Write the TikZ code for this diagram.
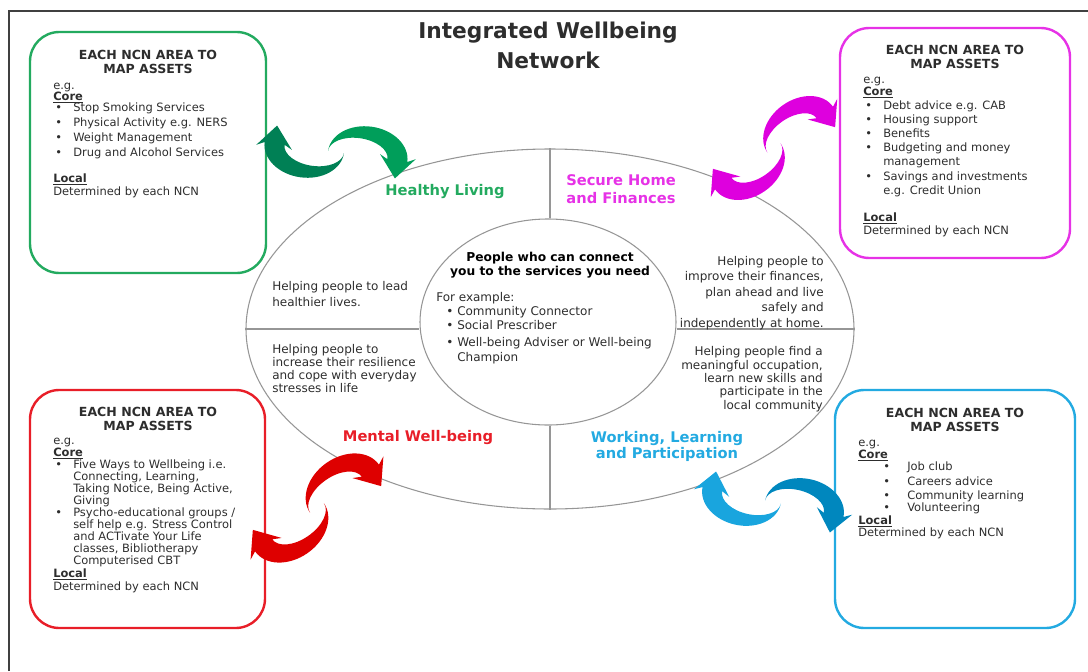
\documentclass[tikz,border=0pt]{standalone}
\usepackage{fontspec}
\setmainfont{DejaVu Sans}
\usetikzlibrary{shapes.geometric}

\definecolor{hlgreen}{RGB}{35,170,95}
\definecolor{hlgreenA}{RGB}{0,158,90}
\definecolor{hlgreenB}{RGB}{0,128,85}
\definecolor{shpink}{RGB}{230,50,230}
\definecolor{shpinkA}{RGB}{222,0,222}
\definecolor{mwred}{RGB}{232,30,40}
\definecolor{mwredA}{RGB}{222,0,0}
\definecolor{wlblue}{RGB}{35,170,225}
\definecolor{wlblueA}{RGB}{25,165,222}
\definecolor{wlblueB}{RGB}{0,135,190}
\definecolor{inktext}{RGB}{45,45,45}
\definecolor{ringgray}{RGB}{150,150,150}

\newcommand{\itm}{\makebox[15pt][l]{\hspace{1.5pt}\textbullet}}
\newcommand{\ind}{\hspace*{15pt}}
\newcommand{\itmwide}{\makebox[36.75pt][l]{\hspace{18.75pt}\textbullet}}
\newcommand{\itmhub}{\makebox[15.75pt][l]{\hspace{7.5pt}\textbullet}}
\newcommand{\corehead}{\textbf{\underline{Core}}}
\newcommand{\localhead}{\textbf{\underline{Local}}}
\newcommand{\tightlines}{\lineskiplimit=-\maxdimen}

% one swirl arrow, centre of the pair at the origin, y pointing up
\newcommand{\cyclearrow}[1]{%
  \fill[#1] (-8,0) arc[start angle=180,end angle=0,x radius=40,y radius=30]
    -- (80,4) -- (62,-18) -- (44,4) -- (52,0)
    arc[start angle=0,end angle=180,x radius=30,y radius=17] -- cycle;}

% multi-line nodes are placed by the baseline of their last line
\tikzset{
  assetbox/.style={draw=#1, line width=1.8pt, rounded corners=22pt, inner sep=0pt},
  boxhead/.style={anchor=base, align=center, inner sep=0pt, text=inktext,
    font=\bfseries\fontsize{9.4}{10.5}\selectfont\tightlines},
  boxtext/.style={anchor=base west, align=left, inner sep=0pt, text=inktext,
    font=\fontsize{8.6}{#1}\selectfont\tightlines},
  boxtext/.default=8.25,
  sector/.style={anchor=base, align=center, inner sep=0pt, text=#1,
    font=\bfseries\fontsize{11}{13.5}\selectfont\tightlines},
  ringtext/.style={inner sep=0pt, text=inktext, font=\fontsize{9}{#1}\selectfont\tightlines},
  divider/.style={draw=ringgray, line width=0.8pt}
}

\begin{document}
\begin{tikzpicture}[x=0.75pt,y=0.75pt,yscale=-1,xscale=1]
\useasboundingbox (0,0) rectangle (1088,671);

%Straight Lines: page frame
\draw [line width=1.1pt, black!75] (9,671) -- (9,11) -- (1088,11) ;

% Text Node
\node (title) [anchor=base, align=center, inner sep=0pt, text=inktext, font=\bfseries\fontsize{16.3}{22.5}\selectfont\tightlines] at (548,68) {Integrated Wellbeing\\Network};

%Shape: Ellipse
\node (ring) [ellipse, draw=ringgray, line width=0.8pt, inner sep=0pt, minimum width=456pt, minimum height=270pt] at (550,329) {};
%Shape: Ellipse
\node (hub) [ellipse, draw=ringgray, line width=0.8pt, inner sep=0pt, minimum width=192pt, minimum height=154.5pt] at (548,322) {};
%Straight Lines
\draw [divider] (ring.north) -- (ring.north |- hub.north) ;
\draw [divider] (hub.south -| ring.south) -- (ring.south) ;
\draw [divider] (ring.west) -- (hub.west |- ring.west) ;
\draw [divider] (hub.east |- ring.east) -- (ring.east) ;

%Shape: Rounded Rect
\node (hlbox) [assetbox=hlgreen, minimum width=177pt, minimum height=180.75pt] at (148,152.5) {};
\node (shbox) [assetbox=shpink, minimum width=172.5pt, minimum height=172.5pt] at (955,143) {};
\node (mwbox) [assetbox=mwred, minimum width=176.25pt, minimum height=178.5pt] at (147.5,509) {};
\node (wlbox) [assetbox=wlblue, minimum width=180pt, minimum height=178.5pt] at (955,509) {};

% Text Node
\node (hlhead) [boxhead] at (148,73) {EACH NCN AREA TO\\MAP ASSETS};
\node (hllist) [boxtext] at (53,195) {e.g.\\
\corehead\\
\itm Stop Smoking Services\\[3pt]
\itm Physical Activity e.g. NERS\\[3pt]
\itm Weight Management\\[3pt]
\itm Drug and Alcohol Services\\[11.25pt]
\localhead\\[1.5pt]
Determined by each NCN};

% Text Node
\node (shhead) [boxhead] at (955,68) {EACH NCN AREA TO\\MAP ASSETS};
\node (shlist) [boxtext] at (863,234) {e.g.\\[0.75pt]
\corehead\\[2.25pt]
\itm Debt advice e.g. CAB\\[2.25pt]
\itm Housing support\\[2.25pt]
\itm Benefits\\[2.25pt]
\itm Budgeting and money\\[2.25pt]
\ind management\\[3pt]
\itm Savings and investments\\[2.25pt]
\ind e.g. Credit Union\\[12pt]
\localhead\\[1.5pt]
Determined by each NCN};

% Text Node
\node (mwhead) [boxhead] at (148,430) {EACH NCN AREA TO\\MAP ASSETS};
\node (mwlist) [boxtext=9] at (53,590) {e.g.\\
\corehead\\
\itm Five Ways to Wellbeing i.e.\\
\ind Connecting, Learning,\\
\ind Taking Notice, Being Active,\\
\ind Giving\\
\itm Psycho-educational groups /\\
\ind self help e.g. Stress Control\\
\ind and ACTivate Your Life\\
\ind classes, Bibliotherapy\\
\ind Computerised CBT\\[0.75pt]
\localhead\\[0.75pt]
Determined by each NCN};

% Text Node
\node (wlhead) [boxhead] at (955,431) {EACH NCN AREA TO\\MAP ASSETS};
\node (wllist) [boxtext=9] at (858,536) {e.g.\\
\corehead\\
\itmwide Job club\\[2.25pt]
\itmwide Careers advice\\[1.5pt]
\itmwide Community learning\\
\itmwide Volunteering\\[0.75pt]
\localhead\\
Determined by each NCN};

% Text Node
\node (hllabel) [sector=hlgreen] at (445,195) {Healthy Living};
\node (shlabel) [sector=shpink] at (621,203) {Secure Home\\and Finances};
\node (mwlabel) [sector=mwred] at (418,441) {Mental Well-being};
\node (wllabel) [sector=wlblue, font=\bfseries\fontsize{11}{12}\selectfont\tightlines] at (667,458) {Working, Learning\\and Participation};

% Text Node
\node (hltext) [ringtext=12, anchor=base west, align=left] at (272,306) {Helping people to lead\\healthier lives.};
\node (mwtext) [ringtext=9.75, anchor=base west, align=left] at (272,392) {Helping people to\\increase their resilience\\and cope with everyday\\stresses in life};
\node (shtext) [ringtext=11.6, anchor=base east, align=right] at (824,327) {Helping people to\\improve their finances,\\plan ahead and live\\safely and\\independently at home.};
\node (wltext) [ringtext=10, anchor=base east, align=right] at (823,409) {Helping people find a\\meaningful occupation,\\learn new skills and\\participate in the\\local community};

% Text Node
\node (hubhead) [anchor=base, align=center, inner sep=0pt, text=black, font=\bfseries\fontsize{9.2}{10.5}\selectfont\tightlines] at (550,275) {People who can connect\\you to the services you need};
\node (hublist) [ringtext=10.5, anchor=base west, align=left] at (436,361) {For example:\\
\itmhub Community Connector\\
\itmhub Social Prescriber\\[2.25pt]
\itmhub Well-being Adviser or Well-being\\[0.75pt]
\hspace*{15.75pt}Champion};

%Curve Lines: swirl arrows
\begin{scope}[shift={(336,152)}, yscale=-1, rotate=-8]
  \cyclearrow{hlgreenA}
  \begin{scope}[rotate=180] \cyclearrow{hlgreenB} \end{scope}
\end{scope}
\begin{scope}[shift={(774,148)}, yscale=-1, rotate=35]
  \cyclearrow{shpinkA}
  \begin{scope}[rotate=180] \cyclearrow{shpinkA} \end{scope}
\end{scope}
\begin{scope}[shift={(317,508)}, yscale=-1, rotate=35, scale=1.05]
  \cyclearrow{mwredA}
  \begin{scope}[rotate=180] \cyclearrow{mwredA} \end{scope}
\end{scope}
\begin{scope}[shift={(773,502)}, yscale=-1, rotate=-12]
  \cyclearrow{wlblueB}
  \begin{scope}[rotate=180] \cyclearrow{wlblueA} \end{scope}
\end{scope}

\end{tikzpicture}
\end{document}
